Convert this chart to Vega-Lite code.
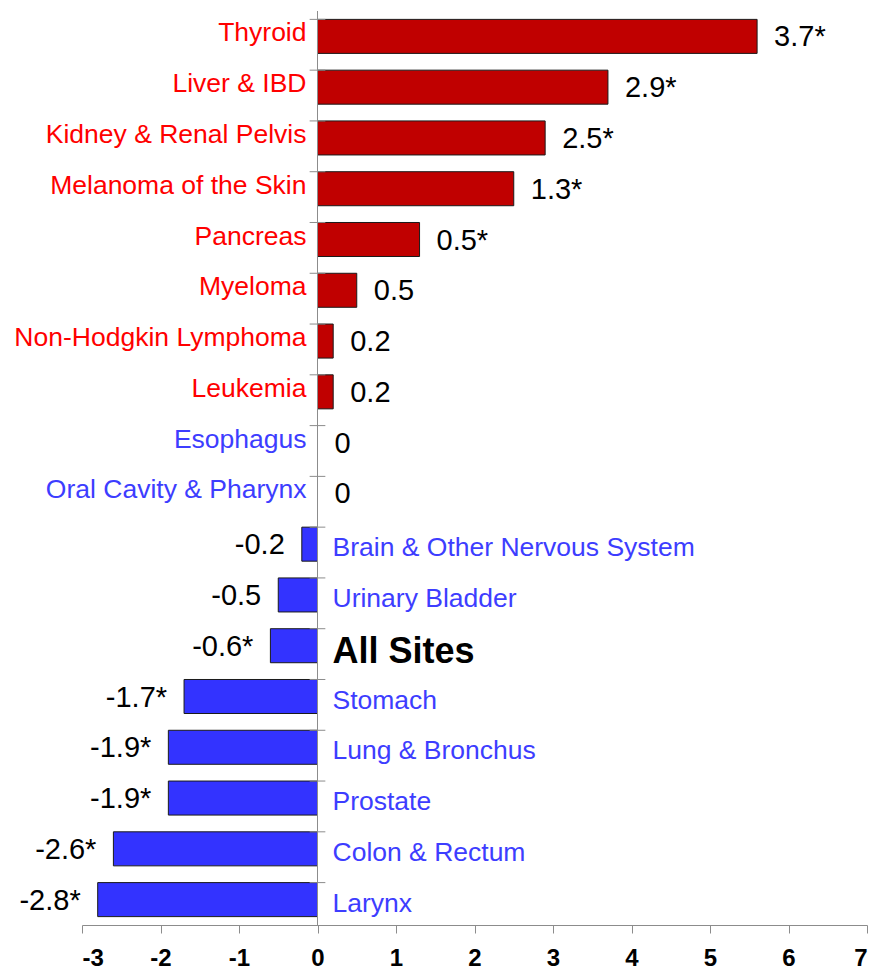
{
  "$schema": "https://vega.github.io/schema/vega-lite/v6.json",
  "width": 785,
  "height": 914,
  "autosize": {"type": "none"},
  "padding": {"left": 82, "top": 11, "right": 7, "bottom": 44},
  "background": "white",
  "config": {
    "view": {"stroke": null},
    "font": "Liberation Sans"
  },
  "data": {
    "values": [
      {"site": "Thyroid", "bar": 5.6, "label": "3.7*", "trend": "up"},
      {"site": "Liver & IBD", "bar": 3.7, "label": "2.9*", "trend": "up"},
      {"site": "Kidney & Renal Pelvis", "bar": 2.9, "label": "2.5*", "trend": "up"},
      {"site": "Melanoma of the Skin", "bar": 2.5, "label": "1.3*", "trend": "up"},
      {"site": "Pancreas", "bar": 1.3, "label": "0.5*", "trend": "up"},
      {"site": "Myeloma", "bar": 0.5, "label": "0.5", "trend": "up"},
      {"site": "Non-Hodgkin Lymphoma", "bar": 0.2, "label": "0.2", "trend": "up"},
      {"site": "Leukemia", "bar": 0.2, "label": "0.2", "trend": "up"},
      {"site": "Esophagus", "bar": 0, "label": "0", "trend": "flat"},
      {"site": "Oral Cavity & Pharynx", "bar": 0, "label": "0", "trend": "flat"},
      {"site": "Brain & Other Nervous System", "bar": -0.2, "label": "-0.2", "trend": "down"},
      {"site": "Urinary Bladder", "bar": -0.5, "label": "-0.5", "trend": "down"},
      {"site": "All Sites", "bar": -0.6, "label": "-0.6*", "trend": "down"},
      {"site": "Stomach", "bar": -1.7, "label": "-1.7*", "trend": "down"},
      {"site": "Lung & Bronchus", "bar": -1.9, "label": "-1.9*", "trend": "down"},
      {"site": "Prostate", "bar": -1.9, "label": "-1.9*", "trend": "down"},
      {"site": "Colon & Rectum", "bar": -2.6, "label": "-2.6*", "trend": "down"},
      {"site": "Larynx", "bar": -2.8, "label": "-2.8*", "trend": "down"}
    ]
  },
  "encoding": {
    "y": {
      "field": "site",
      "type": "nominal",
      "scale": {
        "domain": ["Thyroid", "Liver & IBD", "Kidney & Renal Pelvis", "Melanoma of the Skin", "Pancreas", "Myeloma", "Non-Hodgkin Lymphoma", "Leukemia", "Esophagus", "Oral Cavity & Pharynx", "Brain & Other Nervous System", "Urinary Bladder", "All Sites", "Stomach", "Lung & Bronchus", "Prostate", "Colon & Rectum", "Larynx"],
        "paddingInner": 0.33,
        "paddingOuter": 0.165
      },
      "axis": null
    }
  },
  "layer": [
    {
      "transform": [{"filter": "datum.bar != 0"}],
      "mark": {"type": "bar", "stroke": "#1a1a1a", "strokeWidth": 1},
      "encoding": {
        "x": {
          "field": "bar",
          "type": "quantitative",
          "scale": {"domain": [-3, 7], "nice": false, "zero": false},
          "axis": {
            "title": null,
            "grid": false,
            "values": [-3, -2, -1, 0, 1, 2, 3, 4, 5, 6, 7],
            "labelExpr": "'' + datum.value",
            "domainColor": "#8c8c8c",
            "tickColor": "#8c8c8c",
            "tickSize": 8,
            "labelFontSize": 24,
            "labelFontWeight": "bold",
            "labelColor": "black",
            "labelPadding": 13,
            "labelFont": "Liberation Sans"
          }
        },
        "fill": {
          "field": "trend",
          "type": "nominal",
          "scale": {"domain": ["up", "down"], "range": ["#C00000", "#3333FF"]},
          "legend": null
        }
      }
    },
    {
      "mark": {"type": "rule", "color": "#8c8c8c", "strokeWidth": 1},
      "encoding": {
        "x": {"datum": -0.1, "type": "quantitative"},
        "x2": {"datum": 0.1},
        "y": {"field": "site", "type": "nominal", "bandPosition": 0}
      }
    },
    {
      "data": {"values": [{"line": "zero"}]},
      "mark": {"type": "rule", "color": "#8c8c8c", "strokeWidth": 1},
      "encoding": {
        "x": {"datum": 0, "type": "quantitative"},
        "y": null
      }
    },
    {
      "transform": [{"filter": "datum.bar >= 0"}],
      "mark": {"type": "text", "align": "right", "baseline": "middle", "dx": -11, "dy": -3, "fontSize": 26.5},
      "encoding": {
        "x": {"datum": 0, "type": "quantitative"},
        "text": {"field": "site"},
        "color": {
          "field": "trend",
          "type": "nominal",
          "scale": {"domain": ["up", "flat"], "range": ["#FF0000", "#3D3DFF"]},
          "legend": null
        }
      }
    },
    {
      "transform": [{"filter": "datum.bar < 0 && datum.site != 'All Sites'"}],
      "mark": {"type": "text", "align": "left", "baseline": "middle", "dx": 15, "dy": 4, "fontSize": 26.5, "color": "#3D3DFF"},
      "encoding": {
        "x": {"datum": 0, "type": "quantitative"},
        "text": {"field": "site"}
      }
    },
    {
      "transform": [{"filter": "datum.site == 'All Sites'"}],
      "mark": {"type": "text", "align": "left", "baseline": "middle", "dx": 15, "dy": 6, "fontSize": 36, "fontWeight": "bold", "color": "black"},
      "encoding": {
        "x": {"datum": 0, "type": "quantitative"},
        "text": {"field": "site"}
      }
    },
    {
      "transform": [{"filter": "datum.bar >= 0"}],
      "mark": {"type": "text", "align": "left", "baseline": "middle", "dx": 17, "dy": 1, "fontSize": 29, "color": "black"},
      "encoding": {
        "x": {"field": "bar", "type": "quantitative"},
        "text": {"field": "label"}
      }
    },
    {
      "transform": [{"filter": "datum.bar < 0"}],
      "mark": {"type": "text", "align": "right", "baseline": "middle", "dx": -17, "dy": 1, "fontSize": 29, "color": "black"},
      "encoding": {
        "x": {"field": "bar", "type": "quantitative"},
        "text": {"field": "label"}
      }
    }
  ]
}
